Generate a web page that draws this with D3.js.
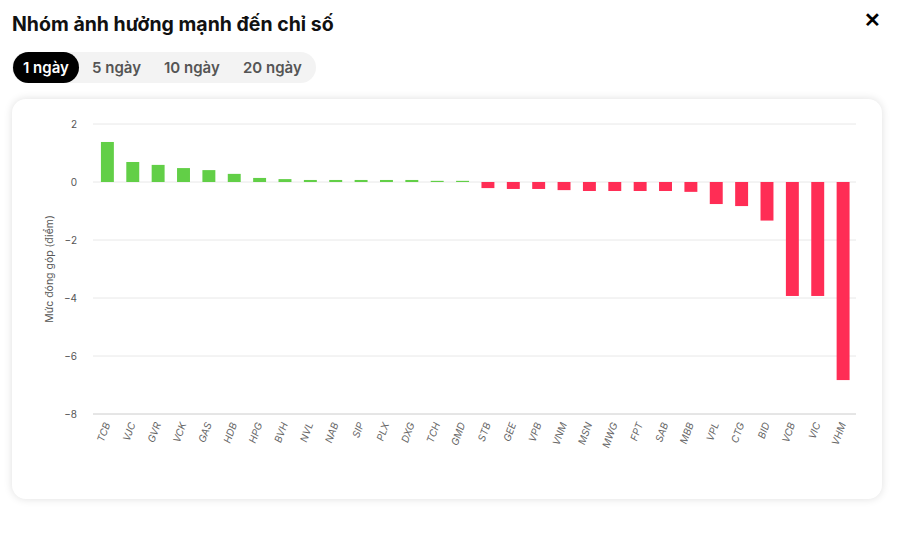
<!DOCTYPE html>
<html lang="vi">
<head>
<meta charset="UTF-8">
<script src="https://d3js.org/d3.v7.min.js"></script>
<style>
  body { margin: 0; background: #fff; font-family: Inter, "Noto Sans", sans-serif; }
  .title { position: absolute; left: 12px; top: 12px; font-size: 19.5px; font-weight: 700; color: #111; }
  .close { position: absolute; left: 864px; top: 8px; font-size: 20px; font-weight: 700; }
  .tabs { position: absolute; left: 12px; top: 52px; height: 31px; width: 304px; background: #f3f3f3; border-radius: 16px; }
  .tab { position: absolute; top: 0; height: 31px; line-height: 31px; font-size: 15px; font-weight: 600; color: #555; }
  .tab.on { background: #000; color: #fff; border-radius: 16px; padding: 0 10px; left: 1px; }
  .card { position: absolute; left: 12px; top: 99px; width: 870px; height: 400px; border-radius: 14px; box-shadow: 0 0 8px rgba(0,0,0,0.13); background: #fff; }
  svg { position: absolute; left: 0; top: 0; }
</style>
</head>
<body>
<div class="title">Nhóm ảnh hưởng mạnh đến chỉ số</div>
<div class="close">✕</div>
<div class="tabs">
  <div class="tab on">1 ngày</div>
  <div class="tab" style="left:80px">5 ngày</div>
  <div class="tab" style="left:152px">10 ngày</div>
  <div class="tab" style="left:231px">20 ngày</div>
</div>
<div class="card"></div>
<svg width="897" height="542"></svg>
<script>
const tickers = ["TCB","VJC","GVR","VCK","GAS","HDB","HPG","BVH","NVL","NAB","SIP","PLX","DXG","TCH","GMD",
  "STB","GEE","VPB","VNM","MSN","MWG","FPT","SAB","MBB","VPL","CTG","BID","VCB","VIC","VHM"];
const values = [1.38,0.69,0.59,0.48,0.41,0.28,0.14,0.1,0.07,0.07,0.07,0.07,0.07,0.04,0.04,
  -0.21,-0.24,-0.24,-0.28,-0.31,-0.31,-0.31,-0.31,-0.34,-0.76,-0.83,-1.33,-3.93,-3.93,-6.83];
const yTicks = [2,0,-2,-4,-6,-8];

const svg = d3.select("svg");
const plotL = 93, plotR = 856, plotT = 124, plotB = 414;

const x = d3.scaleBand().domain(tickers).range([88.5, 862]).padding(0.49);
const y = d3.scaleLinear().domain([-8, 2]).range([plotB, plotT]);

svg.append("g").selectAll("line").data(yTicks).join("line")
  .attr("x1", plotL).attr("x2", plotR)
  .attr("y1", d => y(d)).attr("y2", d => y(d))
  .attr("stroke", d => d === -8 ? "#ccc" : "#e8e8e8");

svg.append("g").selectAll("text").data(yTicks).join("text")
  .attr("x", 77).attr("y", d => y(d) + 4)
  .attr("text-anchor", "end").attr("font-size", 10).attr("fill", "#555")
  .text(d => d < 0 ? "−" + Math.abs(d) : d);

svg.append("g").selectAll("rect").data(tickers).join("rect")
  .attr("x", d => x(d))
  .attr("width", x.bandwidth())
  .attr("y", (d, i) => y(Math.max(0, values[i])))
  .attr("height", (d, i) => Math.abs(y(values[i]) - y(0)))
  .attr("fill", (d, i) => values[i] >= 0 ? "#62cf47" : "#ff2d55");

svg.append("g").selectAll("text").data(tickers).join("text")
  .attr("transform", d => `translate(${x(d) + x.bandwidth() / 2 + 3},${plotB + 10}) rotate(-70)`)
  .attr("text-anchor", "end").attr("font-size", 10).attr("font-style", "italic").attr("fill", "#666")
  .text(d => d);

svg.append("text")
  .attr("transform", `translate(53,${(plotT + plotB) / 2}) rotate(-90)`)
  .attr("text-anchor", "middle").attr("font-size", 10.5).attr("fill", "#555")
  .text("Mức đóng góp (điểm)");
</script>
</body>
</html>
